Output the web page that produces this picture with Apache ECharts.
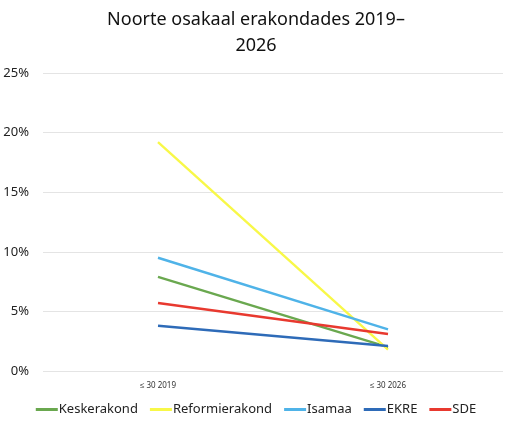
<!DOCTYPE html>
<html><head><meta charset="utf-8">
<script src="https://cdn.jsdelivr.net/npm/echarts@6/dist/echarts.min.js"></script>
<style>html,body{margin:0;padding:0;background:#fff}#c{width:512px;height:428px}</style>
</head><body><div id="c"></div>
<script>
const categories = ['≤ 30 2019', '≤ 30 2026'];
const keskerakond = [7.9, 2.0];
const reformierakond = [19.2, 1.8];
const isamaa = [9.5, 3.5];
const ekre = [3.8, 2.1];
const sde = [5.7, 3.1];
const yTicks = [0, 5, 10, 15, 20, 25];

const names = ['Keskerakond', 'Reformierakond', 'Isamaa', 'EKRE', 'SDE'];
const values = [keskerakond, reformierakond, isamaa, ekre, sde];
const colors = ['#6aa84f', '#f8f848', '#4fb3e8', '#2e6bb8', '#e8392f'];
const font = '"Noto Sans", sans-serif';

const chart = echarts.init(document.getElementById('c'));
chart.setOption({
  animation: false,
  textStyle: { fontFamily: font },
  title: {
    text: 'Noorte osakaal erakondades 2019–\n2026',
    left: 'center', top: 2,
    textStyle: { fontFamily: font, fontSize: 18, fontWeight: 'normal', color: '#111', lineHeight: 26 }
  },
  legend: {
    bottom: 7, left: 'center', itemGap: 12, itemWidth: 22, itemHeight: 3,
    icon: 'rect',
    textStyle: { fontFamily: font, fontSize: 13, color: '#222', padding: [0, 0, 0, -4] },
    data: names
  },
  grid: { left: 43, right: 9, top: 73, bottom: 57 },
  xAxis: {
    type: 'category', data: categories, boundaryGap: true,
    axisLine: { show: false }, axisTick: { show: false },
    axisLabel: { fontSize: 8, color: '#333', margin: 11 }
  },
  yAxis: {
    type: 'value', min: 0, max: 25, interval: 5,
    axisLabel: { formatter: v => yTicks.includes(v) ? v + '%' : '', fontSize: 13, color: '#222', margin: 14 },
    splitLine: { lineStyle: { color: '#e4e4e4', width: 1 } },
    axisLine: { show: false }, axisTick: { show: false }
  },
  series: names.map((n, i) => ({
    name: n, type: 'line', data: values[i],
    symbol: 'none', lineStyle: { width: 2.4, color: colors[i] },
    itemStyle: { color: colors[i] }
  }))
});
</script></body></html>
